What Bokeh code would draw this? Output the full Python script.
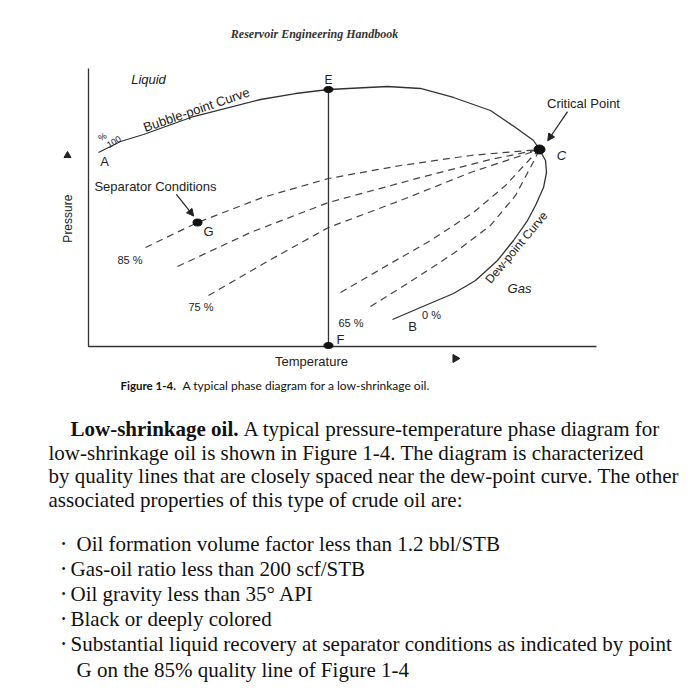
from bokeh.plotting import figure
from bokeh.models import Range1d, Arrow, NormalHead
from bokeh.core.properties import value
from bokeh.embed import file_html
from bokeh.resources import INLINE

# ---------------- diagram data (relative units: axis length = 100) ----------------
axis_T = [0, 0, 100]
axis_P = [100, 0, 0]

bubble_T = [1.97, 6.30, 10.83, 20.67, 33.86, 40.75, 47.24, 58.86, 65.35, 71.85, 79.13, 84.06, 87.60, 88.78]
bubble_P = [69.78, 73.74, 76.26, 82.73, 88.85, 91.00, 92.45, 93.53, 92.81, 89.57, 84.89, 78.78, 74.10, 70.86]

dew_T = [88.78, 89.96, 90.16, 89.57, 87.99, 86.42, 83.66, 80.51, 76.18, 71.85, 65.35, 59.84]
dew_P = [70.86, 66.91, 62.59, 57.19, 50.72, 45.32, 38.13, 30.94, 23.74, 19.06, 14.03, 9.71]

q85_T = [11.22, 21.46, 34.25, 47.24, 61.42, 75.20, 88.78]
q85_P = [35.61, 44.60, 53.60, 60.43, 65.11, 68.71, 70.86]

q80_T = [17.52, 31.89, 47.24, 65.35, 79.13, 88.78]
q80_P = [28.78, 41.01, 51.80, 60.79, 67.27, 70.86]

q75_T = [23.62, 34.84, 47.24, 61.42, 75.20, 88.78]
q75_P = [18.35, 30.22, 42.81, 52.52, 62.59, 70.86]

q65_T = [49.61, 58.07, 67.32, 75.79, 82.09, 87.01, 88.78]
q65_P = [19.42, 28.42, 38.13, 48.20, 57.91, 67.63, 70.86]

qlow_T = [55.51, 62.80, 71.85, 79.13, 84.06, 87.40, 88.78]
qlow_P = [14.39, 22.66, 33.45, 43.53, 54.32, 65.83, 70.86]

crit_T, crit_P = 88.78, 70.86
ef_T = [47.24, 47.24]
ef_P = [92.45, 0.35]
sep_T, sep_P = 21.46, 44.60

# ---------------- page text ----------------
header = "Reservoir Engineering Handbook"
caption_bold = "Figure 1-4."
caption_rest = "A typical phase diagram for a low-shrinkage oil."
para_bold = "Low-shrinkage oil."
para_first = "A typical pressure-temperature phase diagram for"
para_rest = [
    "low-shrinkage oil is shown in Figure 1-4. The diagram is characterized",
    "by quality lines that are closely spaced near the dew-point curve. The other",
    "associated properties of this type of crude oil are:",
]
bullets = [
    "Oil formation volume factor less than 1.2 bbl/STB",
    "Gas-oil ratio less than 200 scf/STB",
    "Oil gravity less than 35\u00b0 API",
    "Black or deeply colored",
    "Substantial liquid recovery at separator conditions as indicated by point",
]
bullet_cont = "G on the 85% quality line of Figure 1-4"

# ---------------- figure: page coordinates ----------------
X0, X1 = 0, 684
p = figure(width=684, height=684, x_range=Range1d(X0, X1), y_range=Range1d(X1, X0),
           output_backend="svg", toolbar_location=None, min_border=0,
           x_axis_location=None, y_axis_location=None)
p.grid.visible = False
p.outline_line_color = None
p.background_fill_color = "white"
p.border_fill_color = "white"

# diagram scales: origin of the T/P axes on the page and px per unit
ox, oy, sx, sy = 88, 346, 5.08, 2.78
p.extra_x_ranges = {"T": Range1d((X0 - ox) / sx, (X1 - ox) / sx)}
p.extra_y_ranges = {"P": Range1d((oy - X1) / sy, (oy - X0) / sy)}
D = dict(x_range_name="T", y_range_name="P")

LC = "#333333"
sans = value("Liberation Sans")

# axes
p.line(axis_T, axis_P, line_color=LC, line_width=1.3, **D)
# envelope
p.line(bubble_T, bubble_P, line_color=LC, line_width=1.3, **D)
p.line(dew_T, dew_P, line_color=LC, line_width=1.3, **D)
# quality lines
for qt, qp in [(q85_T, q85_P), (q80_T, q80_P), (q75_T, q75_P), (q65_T, q65_P), (qlow_T, qlow_P)]:
    p.line(qt, qp, line_color="#444444", line_width=1.2, line_dash="7 5", **D)
# isothermal E-F
p.line(ef_T, ef_P, line_color=LC, line_width=1.3, **D)

# points
p.ellipse(x=[crit_T], y=[crit_P], width=11, height=9, width_units="screen", height_units="screen",
          fill_color="#111111", line_color="#111111", **D)
p.ellipse(x=ef_T, y=ef_P, width=9, height=6, width_units="screen", height_units="screen",
          fill_color="#111111", line_color="#111111", **D)
p.ellipse(x=[sep_T], y=[sep_P], width=9, height=7, width_units="screen", height_units="screen",
          fill_color="#111111", line_color="#111111", **D)

# direction markers
p.scatter(x=[-4.13], y=[68.7], marker="triangle", size=7, fill_color="#222222", line_color="#222222", **D)
p.scatter(x=[72.2], y=[-4.3], marker="triangle", size=8, angle=-90, angle_units="deg",
          fill_color="#222222", line_color="#222222", **D)

# arrows
p.add_layout(Arrow(end=NormalHead(size=7, fill_color="#222222", line_color="#222222"),
                   x_start=94.3, y_start=84.5, x_end=90.4, y_end=74.0,
                   line_color="#222222", line_width=1.2, **D))
p.add_layout(Arrow(end=NormalHead(size=7, fill_color="#222222", line_color="#222222"),
                   x_start=17.3, y_start=54.7, x_end=20.7, y_end=46.9,
                   line_color="#222222", line_width=1.2, **D))

def dtext(x, y, t, size="13px", style="normal", angle=0, align="center", color="#222222"):
    p.text(x=[x], y=[y], text=[t], text_font=sans, text_font_size=size, text_font_style=style,
           angle=angle, angle_units="deg", text_align=align, text_baseline="middle",
           text_color=color, **D)

dtext(11.81, 96.04, "Liquid", style="italic")
dtext(47.24, 95.7, "E", size="12px")
dtext(3.15, 66.5, "A")
dtext(97.44, 87.41, "Critical Point")
dtext(93.11, 68.7, "C", style="italic")
dtext(13.19, 57.55, "Separator Conditions")
dtext(23.62, 41.37, "G")
dtext(8.46, 31.29, "85  %", size="11px")
dtext(22.44, 14.03, "75  %", size="11px")
dtext(51.97, 8.63, "65  %", size="11px")
dtext(67.52, 11.51, "0 %", size="11px")
dtext(63.78, 7.19, "B")
dtext(49.61, 2.52, "F")
dtext(-4.13, 46.0, "Pressure", size="12px", angle=90)
dtext(43.90, -5.40, "Temperature")
dtext(84.25, 35.6, "Dew-point Curve", size="12px", angle=50)
dtext(84.84, 20.86, "Gas", style="italic")
dtext(21.26, 85.2, "Bubble-point Curve", size="13px", angle=19)
dtext(2.75, 75.4, "%", size="9px", angle=30)
dtext(5.0, 73.6, "100", size="9px", angle=30)

# ---------------- page text ----------------
serif = value("Liberation Serif")

def ptext(x, y, t, font, size, style="normal", align="left", color="#111111"):
    p.text(x=[x], y=[y], text=[t], text_font=font, text_font_size=size, text_font_style=style,
           text_align=align, text_baseline="middle", text_color=color)

ptext(314, 33, header, serif, "12px", style="bold italic", align="center", color="#333333")
ptext(120, 385, caption_bold, value("Lato"), "11.5px", style="bold")
ptext(182, 385, caption_rest, value("Lato"), "12px")

BS = "21px"
ptext(70, 428, para_bold, serif, BS, style="bold")
ptext(243, 428, para_first, serif, BS)
for i, line in enumerate(para_rest):
    ptext(48, 452 + 23.7 * i, line, serif, BS)

for i, line in enumerate(bullets):
    yy = 543 + 25.2 * i
    ptext(61, yy, "\u2022", serif, "12px")
    ptext(76 if i == 0 else 70, yy, line, serif, BS)
ptext(76, 669, bullet_cont, serif, BS)

open("out.html", "w").write(file_html(p, INLINE))
